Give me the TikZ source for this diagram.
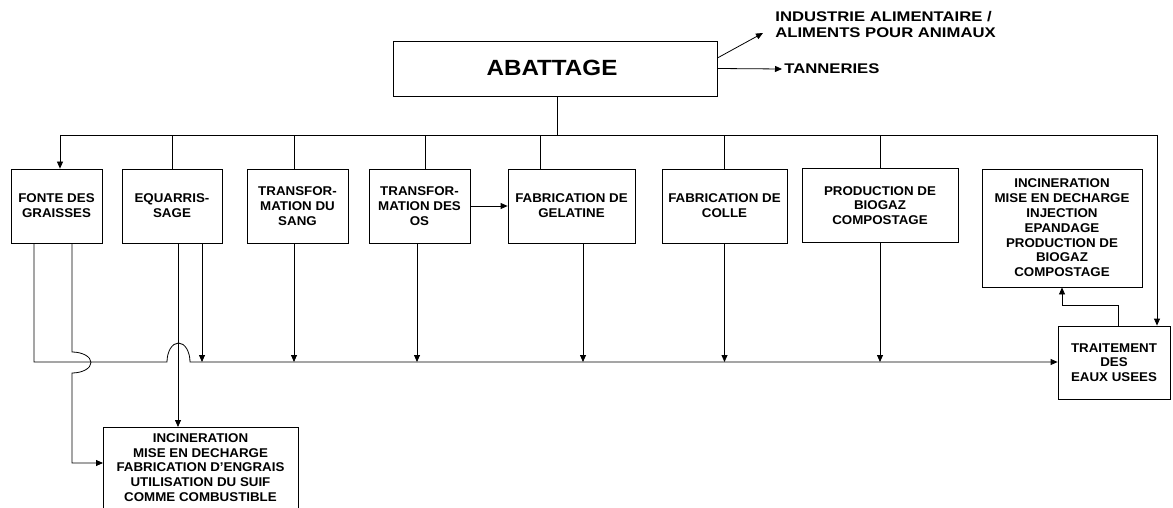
\documentclass[tikz,border=0pt]{standalone}
\usepackage{fontspec}
\setmainfont{Liberation Sans}
\newfontfamily\wideboxfont[FakeStretch=1.05]{Liberation Sans}
\newfontfamily\widelblfont[FakeStretch=1.19]{Liberation Sans}
\newfontfamily\widetitlefont[FakeStretch=1.1]{Liberation Sans}
\usetikzlibrary{arrows.meta}
\begin{document}
\begin{tikzpicture}[x=1pt,y=-1pt,
  line width=0.8pt,
  box/.style={draw, line width=0.8pt, align=center, inner sep=0pt,
    font=\wideboxfont\fontsize{12.7}{14.8}\selectfont\bfseries},
  lbl/.style={align=left, inner sep=0pt, anchor=west,
    font=\widelblfont\fontsize{14}{15.5}\selectfont\bfseries},
  arr/.style={-{Triangle[length=7pt,width=6pt]}},
]
\useasboundingbox (0,0) rectangle (1173,508);
\clip (0,0) rectangle (1173,508);

% main process
\node[box, minimum width=324pt, minimum height=55pt] (abat) at (555,68.5) {};
\node[inner sep=0pt, font=\widetitlefont\fontsize{22}{24}\selectfont\bfseries]
  (abatt) at (552,68) {ABATTAGE};
\node[lbl] (ind) at (775,24.5) {INDUSTRIE ALIMENTAIRE /\\ALIMENTS POUR ANIMAUX};
\node[lbl] (tan) at (784,69) {TANNERIES};

% by-product processing units
\node[box, minimum width=91pt,  minimum height=74pt] (fonte) at (56.5,206) {FONTE DES\\GRAISSES};
\node[box, minimum width=100pt, minimum height=74pt] (equa)  at (172,206) {EQUARRIS-\\SAGE};
\node[box, minimum width=101pt, minimum height=74pt] (sang)  at (297.5,206) {TRANSFOR-\\MATION DU\\SANG};
\node[box, minimum width=101pt, minimum height=74pt] (os)    at (419.5,206) {TRANSFOR-\\MATION DES\\OS};
\node[box, minimum width=127pt, minimum height=74pt] (gel)   at (571.5,206) {FABRICATION DE\\GELATINE};
\node[box, minimum width=125pt, minimum height=74pt] (colle) at (724.5,206) {FABRICATION DE\\COLLE};
\node[box, minimum width=156pt, minimum height=74pt] (biog)  at (880,205.5) {PRODUCTION DE\\BIOGAZ\\COMPOSTAGE};
\node[box, minimum width=160pt, minimum height=118pt] (inc2) at (1062,228)
  {INCINERATION\\MISE EN DECHARGE\\INJECTION\\EPANDAGE\\PRODUCTION DE\\BIOGAZ\\COMPOSTAGE};
\node[box, minimum width=112pt, minimum height=73pt] (trait) at (1114,362.5) {TRAITEMENT\\DES\\EAUX USEES};

% disposal of solid residues
\node[draw, line width=0.8pt, inner sep=0pt, minimum width=195pt, minimum height=100pt,
  anchor=north west] (incb) at (103,427) {};
\node[box, draw=none, anchor=north] (incbt) at (200.5,433)
  {INCINERATION\\MISE EN DECHARGE\\FABRICATION D’ENGRAIS\\UTILISATION DU SUIF\\COMME COMBUSTIBLE};

% distribution bus
\coordinate (busL) at (60,135);
\coordinate (busR) at (1157,135);
\coordinate (col) at (34,362);
\coordinate (fr) at (72,463);

\draw[arr] ([yshift=10.5pt]abat.east) -- ([xshift=-12pt,yshift=-8.5pt]ind.west);
\draw[arr] (abat.east) -- ([xshift=-2pt]tan.west);

\draw ([xshift=2pt]abat.south) -- ([xshift=2pt]abat.south |- busL);
\draw (busL) -- (busR);
\draw[arr] (busL) -- (busL |- fonte.north);
\draw (equa.north) -- (equa.north |- busL);
\draw ([xshift=-3.5pt]sang.north) -- ([xshift=-3.5pt]sang.north |- busL);
\draw ([xshift=5.5pt]os.north) -- ([xshift=5.5pt]os.north |- busL);
\draw ([xshift=-31.5pt]gel.north) -- ([xshift=-31.5pt]gel.north |- busL);
\draw (colle.north) -- (colle.north |- busL);
\draw (biog.north) -- (biog.north |- busL);
\draw[arr] (busR) -- (busR |- trait.north);

\draw[arr] (os.east) -- (os.east -| gel.west);

% effluents to waste water treatment
\draw[arr] ([xshift=30pt]equa.south) -- ([xshift=30pt]equa.south |- col);
\draw[arr] ([xshift=-3.5pt]sang.south) -- ([xshift=-3.5pt]sang.south |- col);
\draw[arr] ([xshift=-2.5pt]os.south) -- ([xshift=-2.5pt]os.south |- col);
\draw[arr] ([xshift=11.5pt]gel.south) -- ([xshift=11.5pt]gel.south |- col);
\draw[arr] (colle.south) -- (colle.south |- col);
\draw[arr] (biog.south) -- (biog.south |- col);

\draw[arr] ([xshift=-22.5pt]fonte.south) -- (col) -- (167,362)
  arc[start angle=180, end angle=0, x radius=11.5pt, y radius=19pt]
  -- (col -| trait.west);

% solid residues
\draw[arr] ([xshift=15.5pt]fonte.south) -- (72,352)
  arc[start angle=90, end angle=-90, x radius=19pt, y radius=10.5pt]
  -- (fr) -- (fr -| incb.west);
\draw[arr] ([xshift=6pt]equa.south) -- ([xshift=6pt]equa.south |- incb.north);

\draw[arr] ([xshift=4pt]trait.north) -- ++(0,-20) -| (inc2.south);
\end{tikzpicture}
\end{document}
